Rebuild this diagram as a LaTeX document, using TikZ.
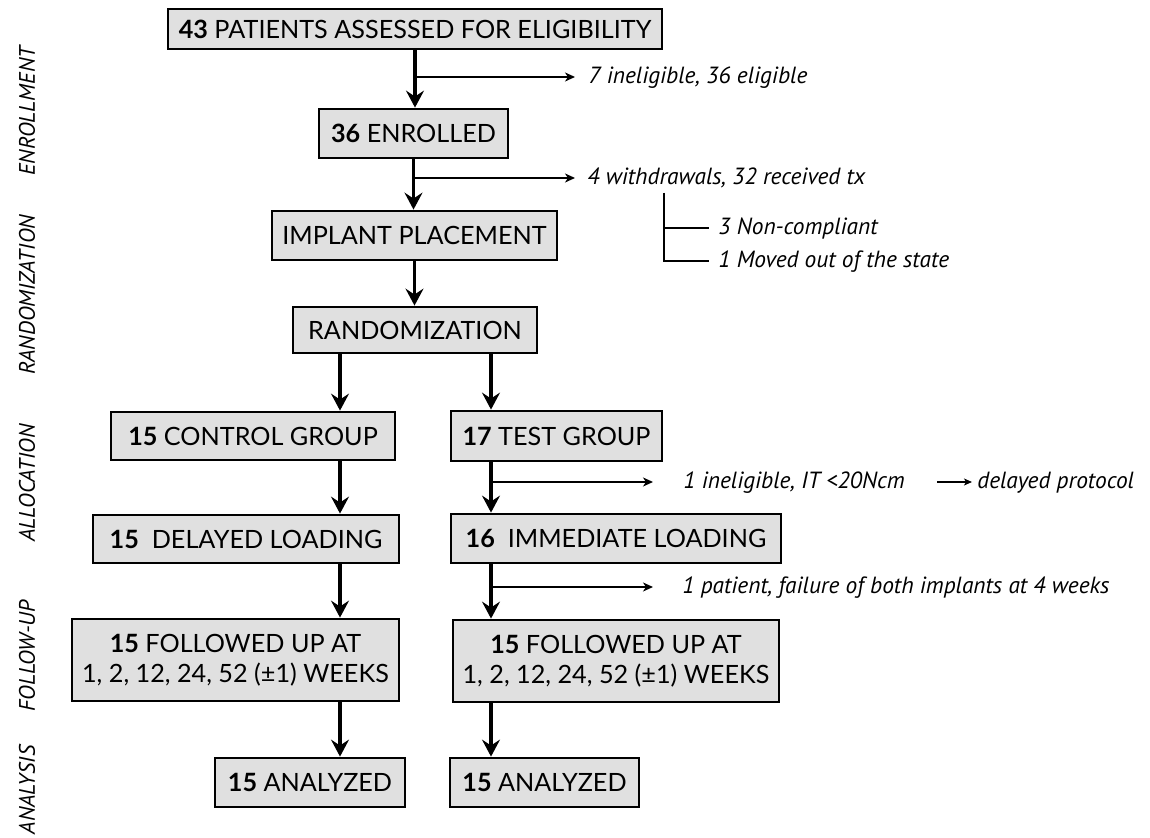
\documentclass[tikz,border=0pt]{standalone}
\usepackage{fontspec}
\setmainfont{Lato}
\newfontfamily\notefont{PT Sans}
\usetikzlibrary{arrows.meta}
\definecolor{boxgray}{RGB}{224,224,224}

\begin{document}
\begin{tikzpicture}[x=0.5pt, y=-0.5pt,
  box/.style={draw, line width=1.4pt, fill=boxgray, inner sep=0pt, align=center,
    font=\fontsize{12.6}{15}\selectfont},
  flow/.style={line width=1.8pt, -{Stealth[length=8.5pt, width=9pt, inset=3pt]}},
  side/.style={line width=1pt, -{Stealth[length=5pt, width=4.5pt, inset=1.5pt]}},
  bracket/.style={line width=1.2pt},
  note/.style={anchor=west, inner sep=0pt, text height=0.7em, text depth=0pt,
    font=\notefont\itshape\fontsize{11.7}{14}\selectfont},
  phase/.style={rotate=90, inner sep=0pt, font=\notefont\itshape\fontsize{11.2}{13}\selectfont},
  ]
  \useasboundingbox (0,0) rectangle (1150,838);

  \node[phase] (enr) at (27,111) {ENROLLMENT};
  \node[phase] (ran) at (27,295) {RANDOMIZATION};
  \node[phase] (all) at (27,483) {ALLOCATION};
  \node[phase] (fol) at (27,656) {FOLLOW-UP};
  \node[phase] (ana) at (27,790) {ANALYSIS};

  \node[box, minimum width=247pt, minimum height=20pt] (n43) at (415,29)
    {\textbf{43} PATIENTS ASSESSED FOR ELIGIBILITY};
  \node[box, minimum width=94.5pt, minimum height=24.5pt] (n36) at (413.5,133.5)
    {\textbf{36} ENROLLED};
  \node[box, minimum width=142.5pt, minimum height=24.5pt] (impl) at (414.5,235.5)
    {IMPLANT PLACEMENT};
  \node[box, minimum width=122pt, minimum height=23pt] (rand) at (415,330)
    {RANDOMIZATION};

  \node[box, minimum width=142pt, minimum height=24pt] (ctrl) at (253,436)
    {\textbf{15} CONTROL GROUP};
  \node[box, minimum width=153pt, minimum height=24pt] (delay) at (246,539)
    {\textbf{15}\ \ DELAYED LOADING};
  \node[box, minimum width=163.5pt, minimum height=41pt] (folL) at (235.5,660)
    {\textbf{15} FOLLOWED UP AT\\1, 2, 12, 24, 52 (±1) WEEKS};
  \node[box, minimum width=95pt, minimum height=24.5pt] (anaL) at (310,782.5)
    {\textbf{15} ANALYZED};

  \node[box, minimum width=105.5pt, minimum height=25pt] (test) at (556.5,436)
    {\textbf{17} TEST GROUP};
  \node[box, minimum width=165pt, minimum height=24.5pt] (immed) at (616,538.5)
    {\textbf{16}\ \ IMMEDIATE LOADING};
  \node[box, minimum width=163pt, minimum height=41pt] (folR) at (616,661)
    {\textbf{15} FOLLOWED UP AT\\1, 2, 12, 24, 52 (±1) WEEKS};
  \node[box, minimum width=94.5pt, minimum height=24.5pt] (anaR) at (544.5,782.5)
    {\textbf{15} ANALYZED};

  \node[note] (e1) at (588,77) {7 ineligible, 36 eligible};
  \node[note] (e2) at (587,178) {4 withdrawals, 32 received tx};
  \node[note] (nc) at (718,228) {3 Non-compliant};
  \node[note] (mo) at (718,261) {1 Moved out of the state};
  \node[note] (e3) at (683,482) {1 ineligible, IT <20Ncm};
  \node[note] (dp) at (977,482) {delayed protocol};
  \node[note] (e4) at (682,587) {1 patient, failure of both implants at 4 weeks};

  \coordinate (lc) at (340,0);
  \coordinate (rc) at (491,0);
  \coordinate (brk) at (664,193);

  \draw[flow] (n43.south) -- (n43.south |- n36.north);
  \draw[flow] (n36.south) -- (n36.south |- impl.north);
  \draw[flow] (impl.south) -- (impl.south |- rand.north);
  \draw[flow] (rand.south -| lc) -- (ctrl.north -| lc);
  \draw[flow] (rand.south -| rc) -- (test.north -| rc);
  \draw[flow] (ctrl.south -| lc) -- (delay.north -| lc);
  \draw[flow] (delay.south -| lc) -- (folL.north -| lc);
  \draw[flow] (folL.south -| lc) -- (anaL.north -| lc);
  \draw[flow] (test.south -| rc) -- (immed.north -| rc);
  \draw[flow] (immed.south -| rc) -- (folR.north -| rc);
  \draw[flow] (folR.south -| rc) -- (anaR.north -| rc);

  \draw[side, shorten >=6.5pt] (n43.south |- e1.west) -- (e1.west);
  \draw[side, shorten >=6pt] (n36.south |- e2.west) -- (e2.west);
  \draw[side, shorten >=15pt] (rc |- e3.west) -- (e3.west);
  \draw[side, shorten >=14.5pt] (rc |- e4.west) -- (e4.west);
  \draw[line width=0.6pt, -{Stealth[length=4pt, width=3.5pt, inset=1pt]},
    shorten <=16pt, shorten >=2.5pt] (e3.east) -- (e3.east -| dp.west);

  \draw[bracket, shorten >=4.5pt] (brk) |- (nc.west);
  \draw[bracket, shorten >=4.5pt] (brk) |- (mo.west);
\end{tikzpicture}
\end{document}
